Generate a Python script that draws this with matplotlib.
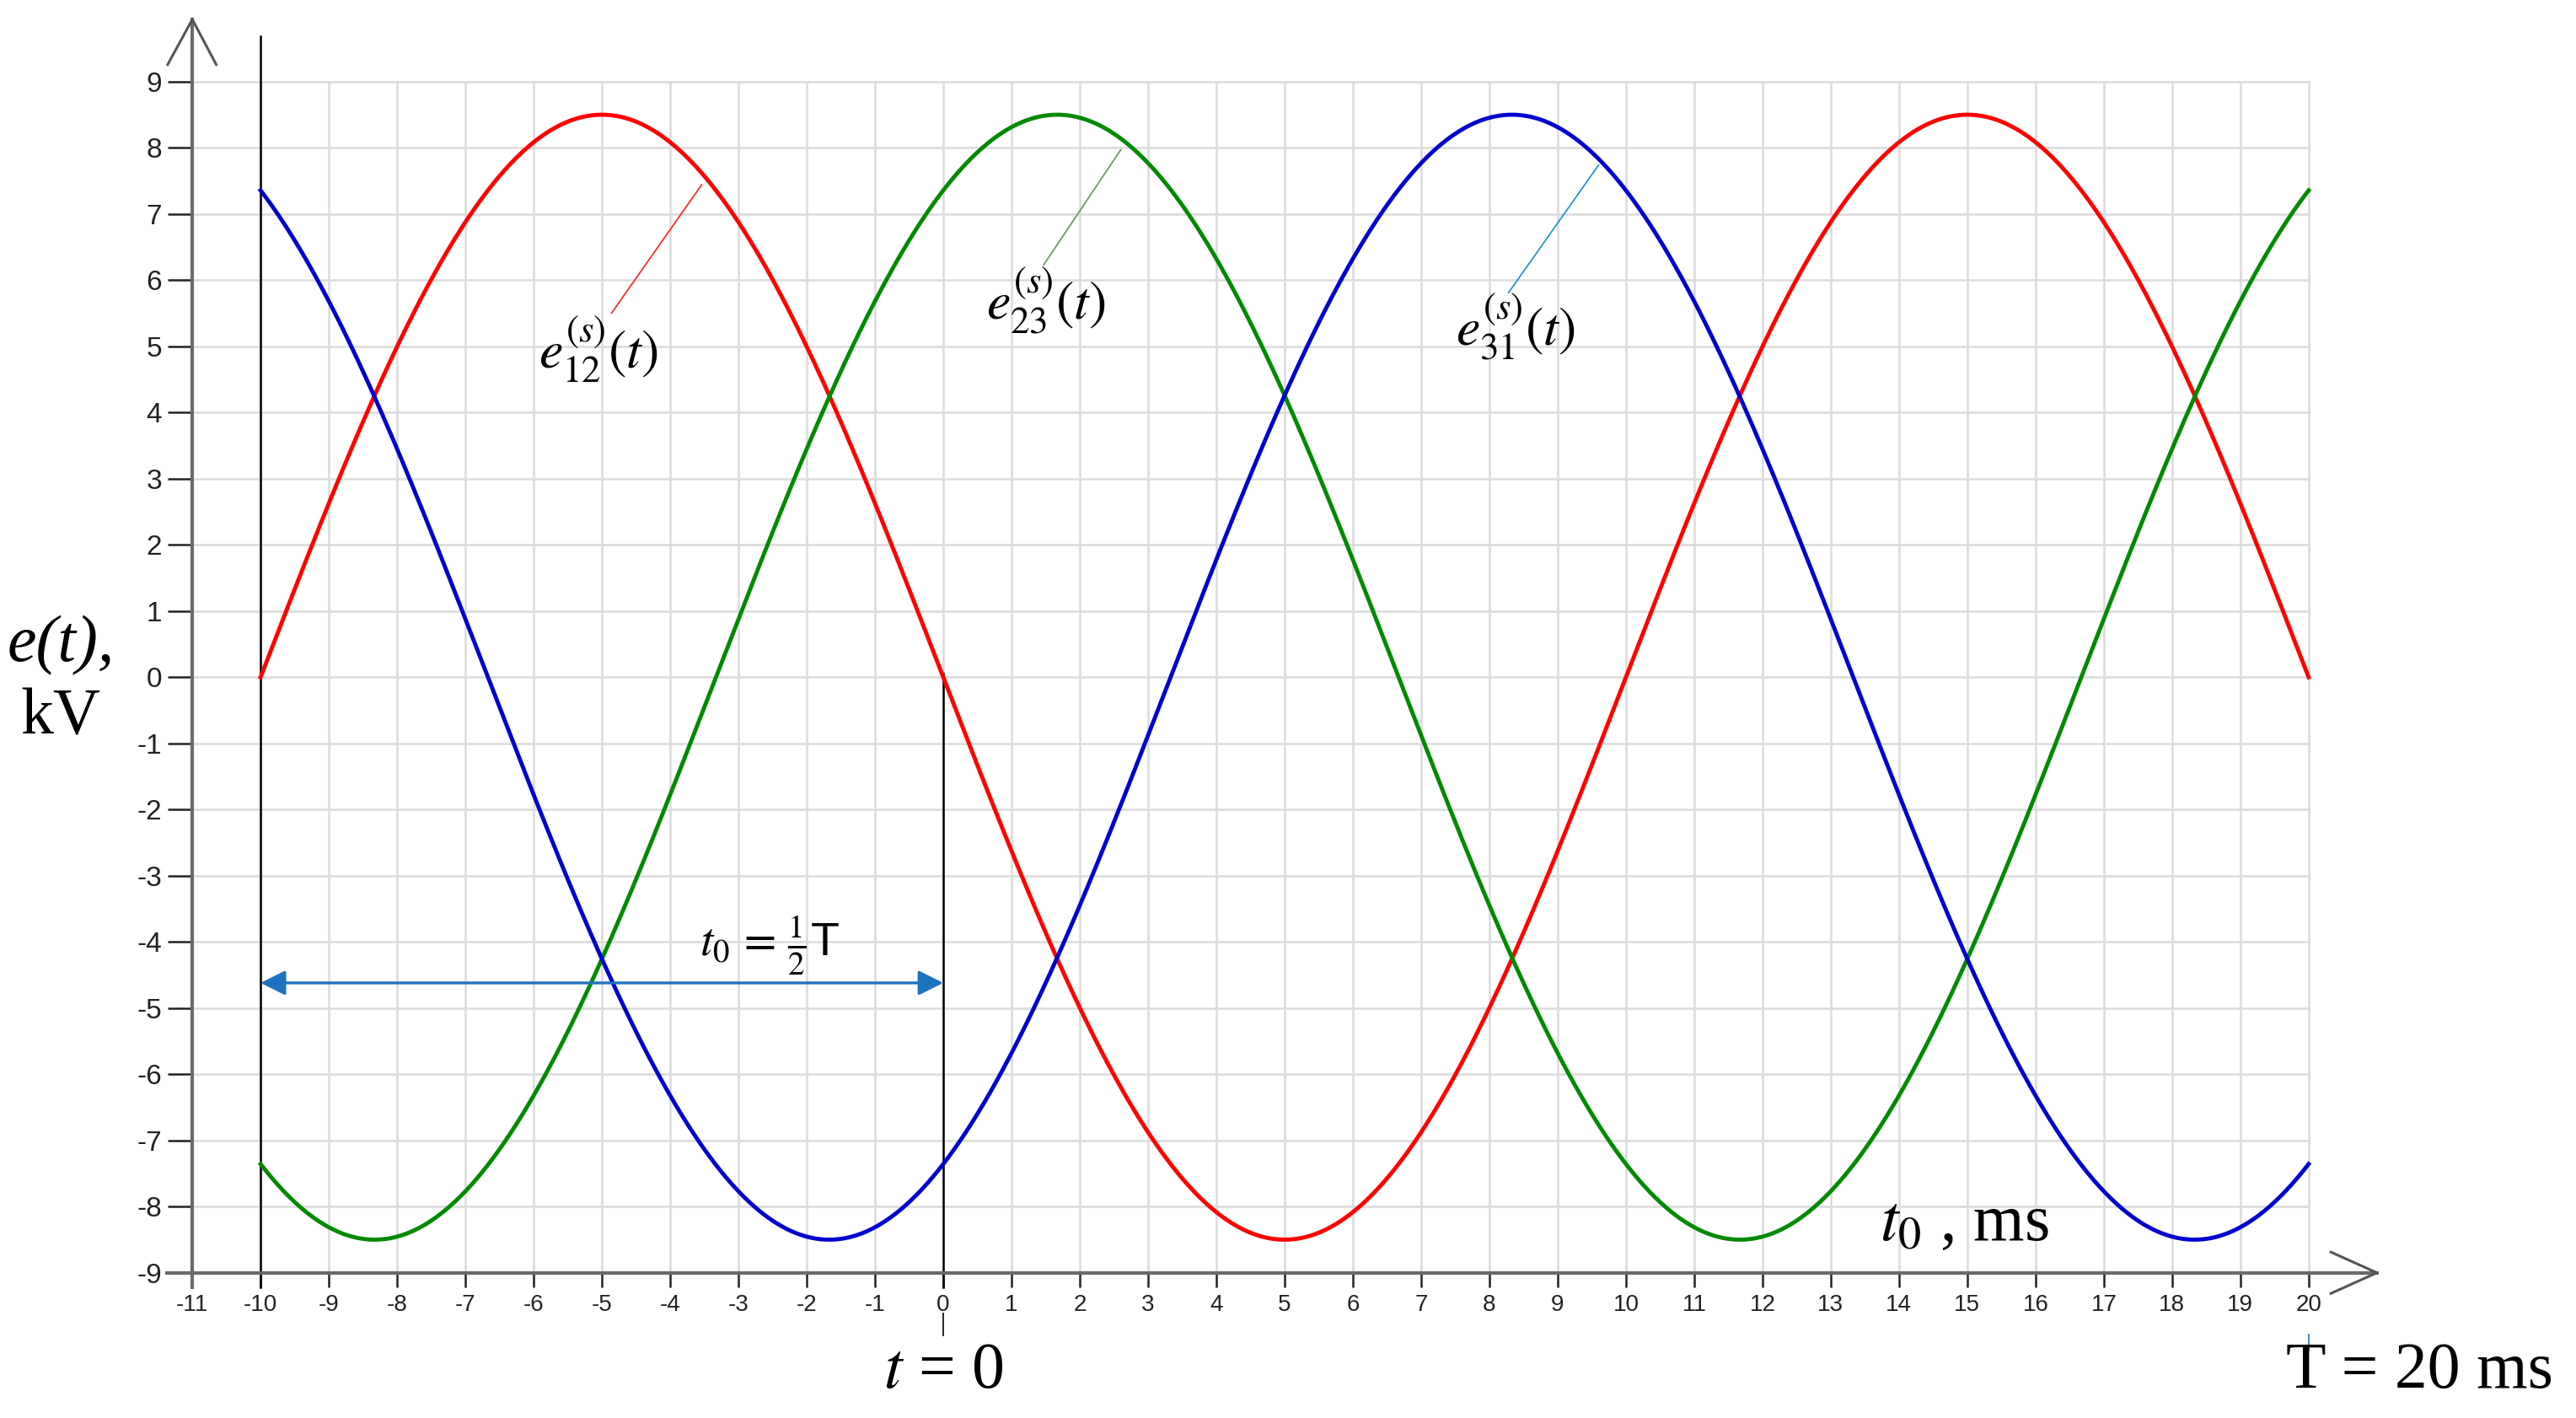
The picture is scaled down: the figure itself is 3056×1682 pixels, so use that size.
import numpy as np
import matplotlib
matplotlib.use("Agg")
import matplotlib.pyplot as plt
from matplotlib import font_manager

plt.rcParams['axes.unicode_minus'] = False
plt.rcParams['mathtext.fontset'] = 'stix'

# ---- data ----
series_names = ["e12", "e23", "e31"]
series_colors = ["#ff0000", "#008a00", "#0000d0"]
amplitude_kV = [8.5, 8.5, 8.5]
peak_time_ms = [-5.0, 1.67, 8.33]
period_ms = 20.0
t_start, t_end = -10.0, 20.0

x_ticks = list(range(-11, 21))
y_ticks = list(range(-9, 10))
x_tick_labels = [str(v) for v in x_ticks]
y_tick_labels = [str(v) for v in y_ticks]

labels_text = [r"$e_{12}^{(s)}(t)$", r"$e_{23}^{(s)}(t)$", r"$e_{31}^{(s)}(t)$"]
label_pos = [(-5.05, 4.95), (1.5, 5.7), (8.38, 5.3)]
leader_start = [(-4.86, 5.5), (1.47, 6.23), (8.28, 5.81)]
leader_end = [(-3.54, 7.44), (2.6, 7.97), (9.6, 7.74)]
leader_colors = ["#ff2020", "#5a9e4a", "#1a8fd0"]

def pick(fams):
    avail = {f.name for f in font_manager.fontManager.ttflist}
    return [f for f in fams if f in avail] + ["DejaVu Sans"]

tick_font_y = pick(["Liberation Sans Narrow", "Liberation Sans"])
tick_font_x = tick_font_y

fig = plt.figure(figsize=(30.56, 16.82), dpi=100)
ax = fig.add_axes([0.0614, 0.0791, 0.8666, 0.910])
ax.set_xlim(-11.5, 21.2)
ax.set_ylim(-9.5, 10.0)

# grid
for xv in x_ticks:
    ax.plot([xv, xv], [-9, 9], color="#dcdcdc", lw=1.9, zorder=1)
for yv in y_ticks:
    ax.plot([-11, 20], [yv, yv], color="#dcdcdc", lw=1.9, zorder=1)

# spines as axes
for s in ["top", "right"]:
    ax.spines[s].set_visible(False)
ax.spines['left'].set_position(('data', -11))
ax.spines['bottom'].set_position(('data', -9))
ax.spines['left'].set_bounds(-9.22, 9.94)
ax.spines['bottom'].set_bounds(-11.37, 21.0)
for s in ["left", "bottom"]:
    ax.spines[s].set_color("#6a6a6a")
    ax.spines[s].set_linewidth(3.0)
    ax.spines[s].set_zorder(5)

ax.set_xticks(x_ticks)
ax.set_xticklabels(x_tick_labels, family=tick_font_x, fontsize=20, color="#222222")
ax.set_yticks(y_ticks)
ax.set_yticklabels(y_tick_labels, family=tick_font_y, fontsize=24, color="#222222")
ax.tick_params(axis='x', length=12, width=1.8, color="#222222", pad=6)
ax.tick_params(axis='y', length=21, width=1.8, color="#222222", pad=5)

# arrow chevrons
ax.plot([-11.37, -11, -10.64], [9.24, 9.94, 9.24], color="#555555", lw=2.2,
        clip_on=False, zorder=6, solid_capstyle='butt')
ax.plot([20.31, 21.0, 20.31], [-8.68, -9, -9.32], color="#555555", lw=2.2,
        clip_on=False, zorder=6, solid_capstyle='butt')

# black reference lines
ax.plot([-10, -10], [9.68, -9.22], color="black", lw=1.8, zorder=3, clip_on=False)
ax.plot([0, 0], [0.05, -9.22], color="black", lw=1.8, zorder=3, clip_on=False)
ax.plot([0, 0], [-9.62, -9.95], color="black", lw=1.2, zorder=3, clip_on=False)
ax.plot([20, 20], [-9.93, -10.17], color="#1e73be", lw=1.2, zorder=3, clip_on=False)

# curves
t = np.linspace(t_start, t_end, 1500)
for A, tp, c in zip(amplitude_kV, peak_time_ms, series_colors):
    y = A * np.cos(2 * np.pi * (t - tp) / period_ms)
    ax.plot(t, y, color=c, lw=3.5, zorder=4)

# labels with leaders
for txt, (lx, ly), (sx, sy), (ex, ey), lc in zip(labels_text, label_pos, leader_start,
                                                 leader_end, leader_colors):
    ax.plot([sx, ex], [sy, ey], color=lc, lw=1.2, zorder=4)
    ax.text(lx, ly, txt, fontsize=46, ha="center", va="center", zorder=6)

# t0 arrow
ax.annotate("", xy=(-10, -4.62), xytext=(0, -4.62),
            arrowprops=dict(arrowstyle="<|-|>", color="#1e73be", lw=2.4,
                            mutation_scale=45, shrinkA=0, shrinkB=0), zorder=5)
ax.text(-2.55, -4.05, r"$t_0\,=\,\frac{1}{2}$T", family=pick(["Liberation Sans"]),
        fontsize=40, ha="center", va="center", zorder=6)

serif = pick(["Liberation Serif", "DejaVu Serif"])
fig.text(72 / 3056, 1 - 766 / 1682, "e(t),", family=serif, style="italic",
         fontsize=56, ha="center", va="center")
fig.text(72 / 3056, 1 - 852 / 1682, "kV", family=serif,
         fontsize=56, ha="center", va="center")
ax.text(14.96, -8.26, r"$t_0$ , ms", family=serif, fontsize=56, ha="center",
        va="center")
ax.text(0, -10.5, r"$t$ = 0", family=serif, fontsize=56, ha="center", va="center",
        clip_on=False)
ax.text(21.63, -10.5, "T = 20 ms", family=serif, fontsize=56, ha="center",
        va="center", clip_on=False)

fig.savefig("out.png", dpi=100)
